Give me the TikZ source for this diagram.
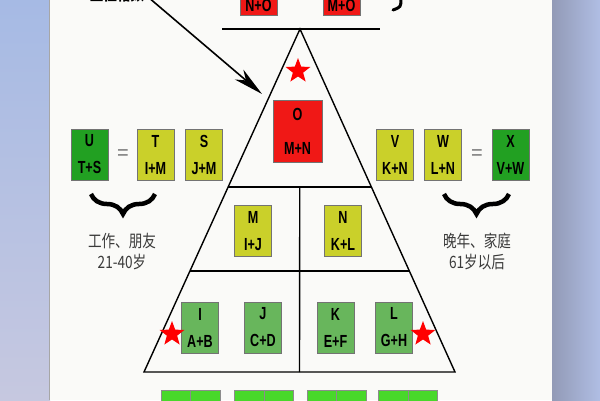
\documentclass[tikz,border=0pt]{standalone}
\usepackage{fontspec}
\setmainfont{Liberation Sans}
\newfontfamily\boxfont{Liberation Sans}[FakeStretch=0.72]
\newfontfamily\cjk{Noto Sans CJK SC}[FakeStretch=0.8]
\usetikzlibrary{shapes.geometric,decorations.pathreplacing,arrows.meta,calc}

\definecolor{sumred}{RGB}{240,24,22}
\definecolor{sumyellow}{RGB}{202,208,42}
\definecolor{sumdark}{RGB}{34,160,34}
\definecolor{summid}{RGB}{104,182,92}
\definecolor{sumlight}{RGB}{72,216,42}
\definecolor{panel}{RGB}{250,250,248}
\definecolor{labelgray}{RGB}{58,58,58}

\tikzset{
	numbox/.style={draw=black!55, line width=0.6pt, minimum width=37pt, minimum height=51pt, inner sep=0pt, align=center, font=\fontsize{17.5}{27}\selectfont\boxfont\bfseries},
	bigbox/.style={numbox, minimum width=49pt, minimum height=62pt, font=\fontsize{17.5}{34}\selectfont\boxfont\bfseries},
	seedbox/.style={draw=black!45, line width=0.6pt, fill=sumlight, minimum width=29.5pt, minimum height=30pt, inner sep=0pt, anchor=north},
	redstar/.style={star, star points=5, star point ratio=2.4, fill=red, inner sep=0pt, minimum size=#1},
	agetext/.style={align=center, text=labelgray, font=\fontsize{17}{21}\selectfont\cjk},
	eqsign/.style={text=black!55, font=\fontsize{20}{20}\selectfont},
	curly/.style={decorate, decoration={brace, mirror, amplitude=20pt, aspect=0.5}, line width=4.5pt},
	tri/.style={line width=1.4pt}
}

\begin{document}
\begin{tikzpicture}[x=1pt,y=-1pt]
	\useasboundingbox (0,0) rectangle (600,400);
	
	% page behind the panel
	\fill[top color={rgb,255:red,166;green,186;blue,228}, bottom color={rgb,255:red,198;green,200;blue,224}] (0,0) rectangle (50,400);
	\fill[left color={rgb,255:red,146;green,154;blue,182}, right color={rgb,255:red,176;green,190;blue,228}] (552,0) rectangle (600,400);
	\fill[panel] (50,0) rectangle (552,400);
	\draw[black!35, line width=1pt] (49.5,0) -- (49.5,400);
	
	% triangle
	\coordinate (apex) at (300,29);
	\coordinate (bl) at (144,372);
	\coordinate (br) at (455,372);
	\coordinate (ml) at ($(apex)!0.4606!(bl)$);
	\coordinate (mr) at ($(apex)!0.4606!(br)$);
	\coordinate (ll) at ($(apex)!0.7055!(bl)$);
	\coordinate (lr) at ($(apex)!0.7055!(br)$);
	\coordinate (topL) at (222,29);
	\coordinate (topR) at (380,29);
	
	\draw[tri] (topL) -- (topR);
	\draw[tri] (apex) -- (bl) -- (br) -- cycle;
	\draw[tri] (ml) -- (mr);
	\draw[tri] (ll) -- (lr);
	\draw[tri] ($(ml)!0.5!(mr)$) -- ($(bl)!0.5!(br)$);
	
	% top row, cut by the frame
	\node[numbox, fill=sumred, text height=30pt, text depth=4pt, minimum height=0pt, anchor=south] (boxP) at (258.5,16) {N+O};
	\node[numbox, fill=sumred, text height=30pt, text depth=4pt, minimum height=0pt, anchor=south] (boxQ) at (341.5,16) {M+O};
	\draw[line width=3pt, line cap=round] (401,-2) .. controls (401,7) .. (393,10);
	
	\node[font=\fontsize{17}{17}\selectfont\cjk\bfseries, anchor=south] (mainlbl) at (117,6) {主性格数};
	\coordinate (arrowtail) at (148,-3);
	\coordinate (arrowtip) at (262,94);
	\draw[line width=1.6pt, -{Stealth[length=30pt, width=13pt, inset=9pt]}] (arrowtail) -- (arrowtip);
	
	% inside the triangle
	\node[redstar=26pt] (starTop) at (298,71) {};
	\node[bigbox, fill=sumred] (boxO) at (297.5,131) {O\\M+N};
	
	\node[numbox, fill=sumyellow] (boxM) at (253,231) {M\\I+J};
	\node[numbox, fill=sumyellow] (boxN) at (343,231) {N\\K+L};
	
	\node[numbox, fill=summid] (boxI) at (200,327.5) {I\\A+B};
	\node[numbox, fill=summid] (boxJ) at (263,327.5) {J\\C+D};
	\node[numbox, fill=summid] (boxK) at (335.5,327.5) {K\\E+F};
	\node[numbox, fill=summid] (boxL) at (394,327.5) {L\\G+H};
	\node[redstar=26pt] (starL) at (172,334) {};
	\node[redstar=26pt] (starR) at (423,334) {};
	
	% left side
	\node[numbox, fill=sumdark] (boxU) at (89.5,154.5) {U\\T+S};
	\node[eqsign] (eqL) at (123,155) {=};
	\node[numbox, fill=sumyellow] (boxT) at (155.5,154.5) {T\\I+M};
	\node[numbox, fill=sumyellow] (boxS) at (204,154.5) {S\\J+M};
	\draw[curly] (91,194) -- (155,194);
	\node[agetext] (ageL) at (122,252) {工作、朋友\\21-40岁};
	
	% right side
	\node[numbox, fill=sumyellow] (boxV) at (395,155) {V\\K+N};
	\node[numbox, fill=sumyellow] (boxW) at (443,155) {W\\L+N};
	\node[eqsign] (eqR) at (477,155) {=};
	\node[numbox, fill=sumdark] (boxX) at (510.5,155) {X\\V+W};
	\draw[curly] (444,194) -- (509,194);
	\node[agetext] (ageR) at (477,252) {晚年、家庭\\61岁以后};
	
	% bottom row, cut by the frame
	\node[seedbox] (boxA) at (176,390) {};
	\node[seedbox] (boxB) at (205.5,390) {};
	\node[seedbox] (boxC) at (249.5,390) {};
	\node[seedbox] (boxD) at (279,390) {};
	\node[seedbox] (boxE) at (322,390) {};
	\node[seedbox] (boxF) at (351.5,390) {};
	\node[seedbox] (boxG) at (393.5,390) {};
	\node[seedbox] (boxH) at (423,390) {};
	
\end{tikzpicture}
\end{document}
